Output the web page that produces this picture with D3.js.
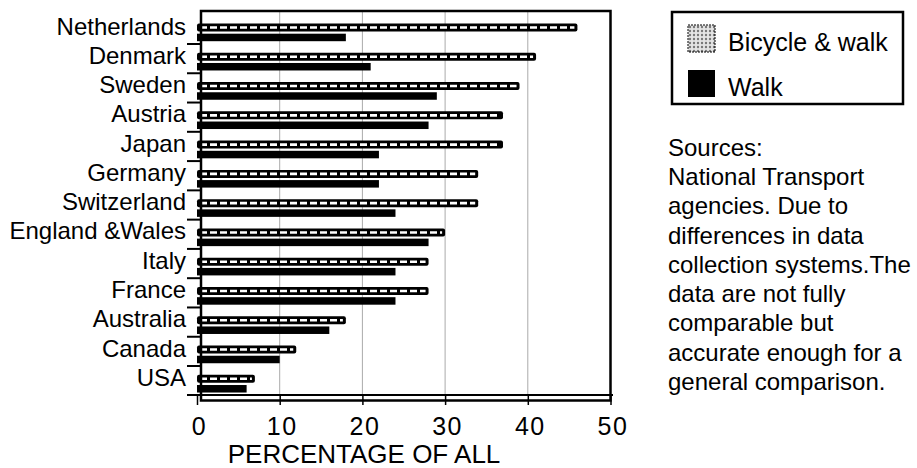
<!DOCTYPE html>
<html>
<head>
<meta charset="utf-8">
<script src="https://cdn.jsdelivr.net/npm/d3@7"></script>
<style>
    body { margin: 0; background: #fff; }
    text { font-family: "Liberation Sans", Arial, Helvetica, sans-serif; fill: #000; }
</style>
</head>
<body>
<svg id="chart" width="917" height="468"></svg>
<script>
var countries = ['Netherlands', 'Denmark', 'Sweden', 'Austria', 'Japan', 'Germany', 'Switzerland',
    'England &Wales', 'Italy', 'France', 'Australia', 'Canada', 'USA'];
var bicycleWalk = [46, 41, 39, 37, 37, 34, 34, 30, 28, 28, 18, 12, 7];
var walkOnly = [18, 21, 29, 28, 22, 22, 24, 28, 24, 24, 16, 10, 6];
var xTicks = [0, 10, 20, 30, 40, 50];
var gridTicks = [10, 20, 30, 40];
var legendLabels = ['Bicycle & walk', 'Walk'];
var axisTitle = 'PERCENTAGE OF ALL';
var sourceLines = ['Sources:', 'National Transport', 'agencies. Due to', 'differences in data',
    'collection systems.The', 'data are not fully', 'comparable but', 'accurate enough for a',
    'general comparison.'];

var svg = d3.select('#chart');

var x = d3.scaleLinear().domain([0, 50]).range([197, 610.5]);
var y = d3.scaleBand().domain(countries).range([14.7, 395.3]);

// dotted fill for the legend swatch
var defs = svg.append('defs');
var pat = defs.append('pattern')
    .attr('id', 'dots')
    .attr('width', 4).attr('height', 4)
    .attr('patternUnits', 'userSpaceOnUse');
pat.append('rect').attr('width', 4).attr('height', 4).attr('fill', '#e4e4e4');
pat.append('circle').attr('cx', 2).attr('cy', 2).attr('r', 1.2).attr('fill', '#777');

// gridlines
svg.append('g').selectAll('line')
    .data(gridTicks)
    .enter()
    .append('line')
    .attr('x1', function (d) { return x(d); })
    .attr('x2', function (d) { return x(d); })
    .attr('y1', 11).attr('y2', 395)
    .attr('stroke', '#aaa').attr('stroke-width', 1);

// bicycle & walk bars: black with white dashes along the middle
var rows = svg.append('g').selectAll('g')
    .data(countries)
    .enter()
    .append('g');

rows.append('rect')
    .attr('x', x(0))
    .attr('y', function (d) { return y(d) + 8.8; })
    .attr('width', function (d, i) { return x(bicycleWalk[i]) - x(0); })
    .attr('height', 8)
    .attr('rx', 2)
    .attr('fill', '#000');

rows.append('line')
    .attr('x1', x(0) + 3)
    .attr('x2', function (d, i) { return x(bicycleWalk[i]) - 3; })
    .attr('y1', function (d) { return y(d) + 12.8; })
    .attr('y2', function (d) { return y(d) + 12.8; })
    .attr('stroke', '#fff')
    .attr('stroke-width', 2.6)
    .attr('stroke-dasharray', '7,3');

// walk bars
rows.append('rect')
    .attr('x', x(0))
    .attr('y', function (d) { return y(d) + 19; })
    .attr('width', function (d, i) { return x(walkOnly[i]) - x(0); })
    .attr('height', 7.5)
    .attr('fill', '#000');

// country labels
rows.append('text')
    .attr('x', 186)
    .attr('y', function (d) { return y(d) + 19.8; })
    .attr('text-anchor', 'end')
    .style('font-size', '24px')
    .text(function (d) { return d; });

// ticks between categories
svg.append('g').selectAll('line')
    .data(countries.slice(1))
    .enter()
    .append('line')
    .attr('x1', 187).attr('x2', 201)
    .attr('y1', function (d) { return y(d); })
    .attr('y2', function (d) { return y(d); })
    .attr('stroke', '#000').attr('stroke-width', 2);

// x axis
var xAxis = svg.append('g')
    .attr('transform', 'translate(0,395)')
    .call(d3.axisBottom(x).tickValues(xTicks).tickSize(10).tickPadding(12).tickFormat(d3.format('d')));
xAxis.select('.domain').remove();
xAxis.selectAll('.tick line').attr('stroke', '#000').attr('stroke-width', 1.5);
xAxis.selectAll('.tick text')
    .attr('dx', 2)
    .style('font-size', '25px')
    .style('letter-spacing', '1.5px')
    .style('font-family', '"Liberation Sans", Arial, sans-serif')
    .attr('fill', '#000');

svg.append('line')
    .attr('x1', 187).attr('x2', 613)
    .attr('y1', 395).attr('y2', 395)
    .attr('stroke', '#000').attr('stroke-width', 2);

// plot frame
svg.append('rect')
    .attr('x', 201).attr('y', 11)
    .attr('width', 409.5).attr('height', 389.5)
    .attr('fill', 'none')
    .attr('stroke', '#000').attr('stroke-width', 2.5);

svg.append('text')
    .attr('x', 364).attr('y', 463)
    .attr('text-anchor', 'middle')
    .style('font-size', '26px')
    .text(axisTitle);

// legend
var legend = svg.append('g');
legend.append('rect')
    .attr('x', 672).attr('y', 12)
    .attr('width', 231).attr('height', 92)
    .attr('fill', 'none')
    .attr('stroke', '#000').attr('stroke-width', 2.5);

var swatchFills = ['url(#dots)', '#000'];
var items = legend.selectAll('g')
    .data(legendLabels)
    .enter()
    .append('g')
    .attr('transform', function (d, i) { return 'translate(688,' + (25 + i * 45) + ')'; });

items.append('rect')
    .attr('width', 27).attr('height', 27)
    .attr('fill', function (d, i) { return swatchFills[i]; })
    .attr('stroke', function (d, i) { return i === 0 ? '#000' : 'none'; })
    .attr('stroke-width', 1)
    .attr('stroke-dasharray', function (d, i) { return i === 0 ? '2,1' : null; });

items.append('text')
    .attr('x', 40).attr('y', 26)
    .style('font-size', '25px')
    .text(function (d) { return d; });

// source note
var note = svg.append('text')
    .attr('x', 668).attr('y', 155.6)
    .style('font-size', '24px');
note.selectAll('tspan')
    .data(sourceLines)
    .enter()
    .append('tspan')
    .attr('x', 668)
    .attr('dy', function (d, i) { return i === 0 ? 0 : 29.3; })
    .text(function (d) { return d; });
</script>
</body>
</html>
